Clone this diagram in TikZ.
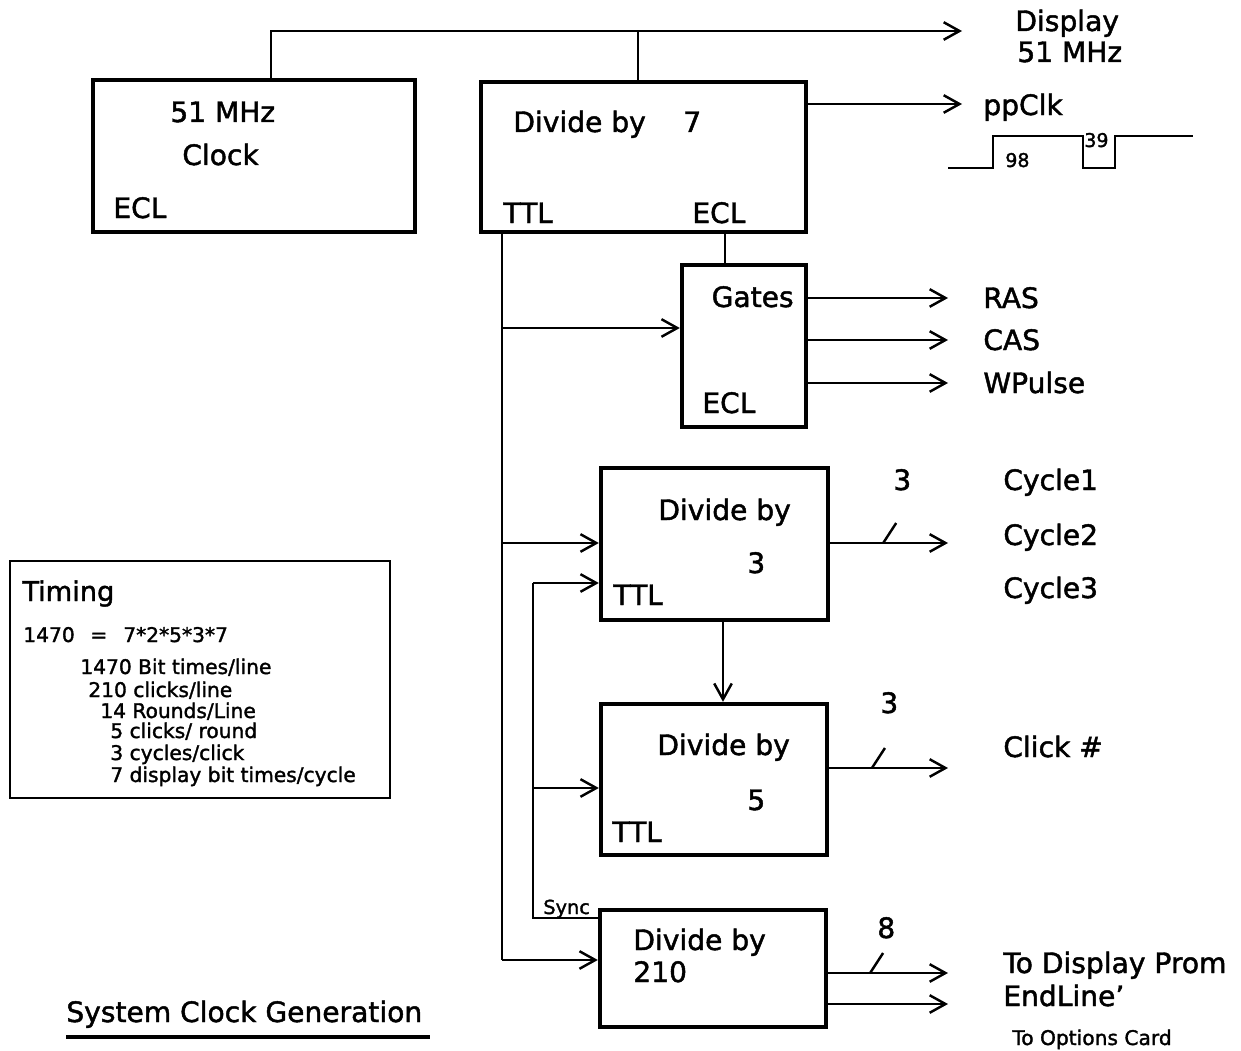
\documentclass[tikz,border=0pt]{standalone}
\usepackage{fontspec}
\setmainfont{DejaVu Sans}[FakeBold=1.6]
\usetikzlibrary{arrows.meta}

\begin{document}
\begin{tikzpicture}[
    x=0.02cm, y=-0.02cm,
    % Block style
    block/.style={
        rectangle,
        draw=black,
        line width=2.5pt,
        inner sep=0pt
    },
    % Label style
    lbl/.style={
        inner sep=0pt,
        anchor=base west,
        font=\fontsize{16}{19}\selectfont
    },
    % Small label style
    small/.style={
        inner sep=0pt,
        anchor=base west,
        font=\fontsize{11.5}{14}\selectfont
    },
    % Tiny label style
    tiny/.style={
        inner sep=0pt,
        anchor=base west,
        font=\fontsize{10.8}{12}\selectfont
    },
    % Wire style
    wire/.style={
        line width=1.4pt
    },
    % Arrow style
    arrow/.style={
        ->,
        >={Straight Barb[length=9pt,width=10pt]},
        line width=1.4pt
    }
]
\useasboundingbox (0,0) rectangle (1241,1051);

% === Clock ===
\node[block, minimum width=6.44cm, minimum height=3.04cm] (clock) at (254,156) {};
\node[lbl] (clockf) at (170,122) {51 MHz};
\node[lbl] (clockn) at (182,165) {Clock};
\node[lbl] (clockecl) at (113,218) {ECL};

% === Divide by 7 ===
\node[block, minimum width=6.5cm, minimum height=3.0cm] (div7) at (643.5,157) {};
\node[lbl] (div7n) at (513,132) {Divide by};
\node[lbl] (div7k) at (683,132) {7};
\node[lbl] (div7ttl) at (503,223) {TTL};
\node[lbl] (div7ecl) at (692,223) {ECL};

% === Gates ===
\node[block, minimum width=2.48cm, minimum height=3.24cm] (gates) at (744,346) {};
\node[lbl, anchor=base east] (gatesn) at (794,307) {Gates};
\node[lbl] (gatesecl) at (702,413) {ECL};

% === Divide by 3 ===
\node[block, minimum width=4.54cm, minimum height=3.04cm] (div3) at (714.5,544) {};
\node[lbl] (div3n) at (658,520) {Divide by};
\node[lbl] (div3k) at (747,573) {3};
\node[lbl] (div3ttl) at (613,605) {TTL};

% === Divide by 5 ===
\node[block, minimum width=4.52cm, minimum height=3.02cm] (div5) at (714,779.5) {};
\node[lbl] (div5n) at (657,755) {Divide by};
\node[lbl] (div5k) at (747,810) {5};
\node[lbl] (div5ttl) at (612,842) {TTL};

% === Divide by 210 ===
\node[block, minimum width=4.52cm, minimum height=2.34cm] (div210) at (713,968.5) {};
\node[lbl] (div210n) at (633,950) {Divide by};
\node[lbl] (div210k) at (633,982) {210};

% === Output labels ===
\node[lbl] (disp) at (1015,31) {Display};
\node[lbl] (dispf) at (1017,62) {51 MHz};
\node[lbl] (ppclk) at (983,115) {ppClk};
\node[lbl] (ras) at (983,308) {RAS};
\node[lbl] (cas) at (983,350) {CAS};
\node[lbl] (wpulse) at (983,393) {WPulse};
\node[lbl] (cyc1) at (1003,490) {Cycle1};
\node[lbl] (cyc2) at (1003,545) {Cycle2};
\node[lbl] (cyc3) at (1003,598) {Cycle3};
\node[lbl] (click) at (1003,757) {Click \#};
\node[lbl] (prom) at (1003,973) {To Display Prom};
\node[lbl] (endline) at (1003,1006) {EndLine'};
\node[tiny, font=\fontsize{11.5}{13}\selectfont] (options) at (1012,1045) {To Options Card};

% Bus widths
\node[lbl] (w3) at (893,490) {3};
\node[lbl] (w5) at (880,713) {3};
\node[lbl] (w210) at (877,938) {8};

% === Top clock line ===
\coordinate (topbus) at (271,31);
\coordinate (dispend) at (962,31);
\coordinate (d7tap) at (638,31);
\draw[arrow] (clock.north -| topbus) -- (topbus) -- (dispend);
\draw[wire] (div7.north -| d7tap) -- (d7tap);

% ppClk out and waveform
\coordinate (ppend) at (962,104);
\draw[arrow] (div7.east |- ppend) -- (ppend);
\draw[wire, line width=1.2pt] (948,168) -- (993,168) -- (993,136) -- (1083,136)
    -- (1083,168) -- (1115,168) -- (1115,136) -- (1193,136);
\node[tiny] (hi) at (1005,167) {98};
\node[tiny] (lo) at (1084,147) {39};

% === Div 7 to gates ===
\coordinate (eclx) at (725,0);
\draw[wire] (div7.south -| eclx) -- (gates.north -| eclx);

% Gate outputs
\coordinate (rasend) at (948,298);
\coordinate (casend) at (948,340);
\coordinate (wpend) at (948,383);
\draw[arrow] (gates.east |- rasend) -- (rasend);
\draw[arrow] (gates.east |- casend) -- (casend);
\draw[arrow] (gates.east |- wpend) -- (wpend);

% === TTL bus ===
\coordinate (tapg) at (502,328);
\coordinate (tap3) at (502,543);
\coordinate (tap210) at (502,960);
\draw[wire] (div7.south -| tap210) -- (tap210);
\draw[arrow] (tapg) -- (gates.west |- tapg);
\draw[arrow] (tap3) -- (div3.west |- tap3);
\draw[arrow] (tap210) -- (div210.west |- tap210);

% === Sync loop ===
\coordinate (sync) at (533,918);
\coordinate (sync3) at (533,583);
\coordinate (sync5) at (533,788);
\draw[wire] (div210.west |- sync) -- (sync) -- (sync3);
\draw[arrow] (sync3) -- (div3.west |- sync3);
\draw[arrow] (sync5) -- (div5.west |- sync5);
\node[inner sep=0pt, anchor=base west, font=\fontsize{11}{13}\selectfont] (syncl) at (543,914) {Sync};

% Div 3 to div 5
\coordinate (d35) at (723,0);
\draw[arrow] (div3.south -| d35) -- (div5.north -| d35);

% === Counter outputs ===
\coordinate (cycend) at (948,543);
\coordinate (clickend) at (948,768);
\coordinate (promend) at (948,973);
\coordinate (endend) at (948,1004);
\draw[arrow] (div3.east |- cycend) -- coordinate[pos=0.45] (m3) (cycend);
\draw[wire] (m3) -- ++(13,-20);
\draw[arrow] (div5.east |- clickend) -- coordinate[pos=0.36] (m5) (clickend);
\draw[wire] (m5) -- ++(13,-20);
\draw[arrow] (div210.east |- promend) -- coordinate[pos=0.35] (m210) (promend);
\draw[wire] (m210) -- ++(13,-20);
\draw[arrow] (div210.east |- endend) -- (endend);

% === Timing notes ===
\node[rectangle, draw=black, line width=1.3pt, minimum width=7.6cm, minimum height=4.74cm] (timing) at (200,679.5) {};
\node[inner sep=0pt, anchor=base west, font=\fontsize{15.5}{18}\selectfont] (timingt) at (22,601) {Timing};
\node[small] (t0) at (23,642) {\makebox[1.34cm][l]{1470}\makebox[0.66cm][l]{=}7*2*5*3*7};
\node[small] (t1) at (80,674) {1470 Bit times/line};
\node[small] (t2) at (88,697) {210 clicks/line};
\node[small] (t3) at (100,718) {14 Rounds/Line};
\node[small] (t4) at (110,738) {5 clicks/ round};
\node[small] (t5) at (110,760) {3 cycles/click};
\node[small] (t6) at (110,782) {7 display bit times/cycle};

% === Title ===
\node[lbl] (title) at (66,1022) {System Clock Generation};
\draw[line width=2.5pt] (title.base west) ++(0,15) -- ++(364,0);

\end{tikzpicture}
\end{document}
